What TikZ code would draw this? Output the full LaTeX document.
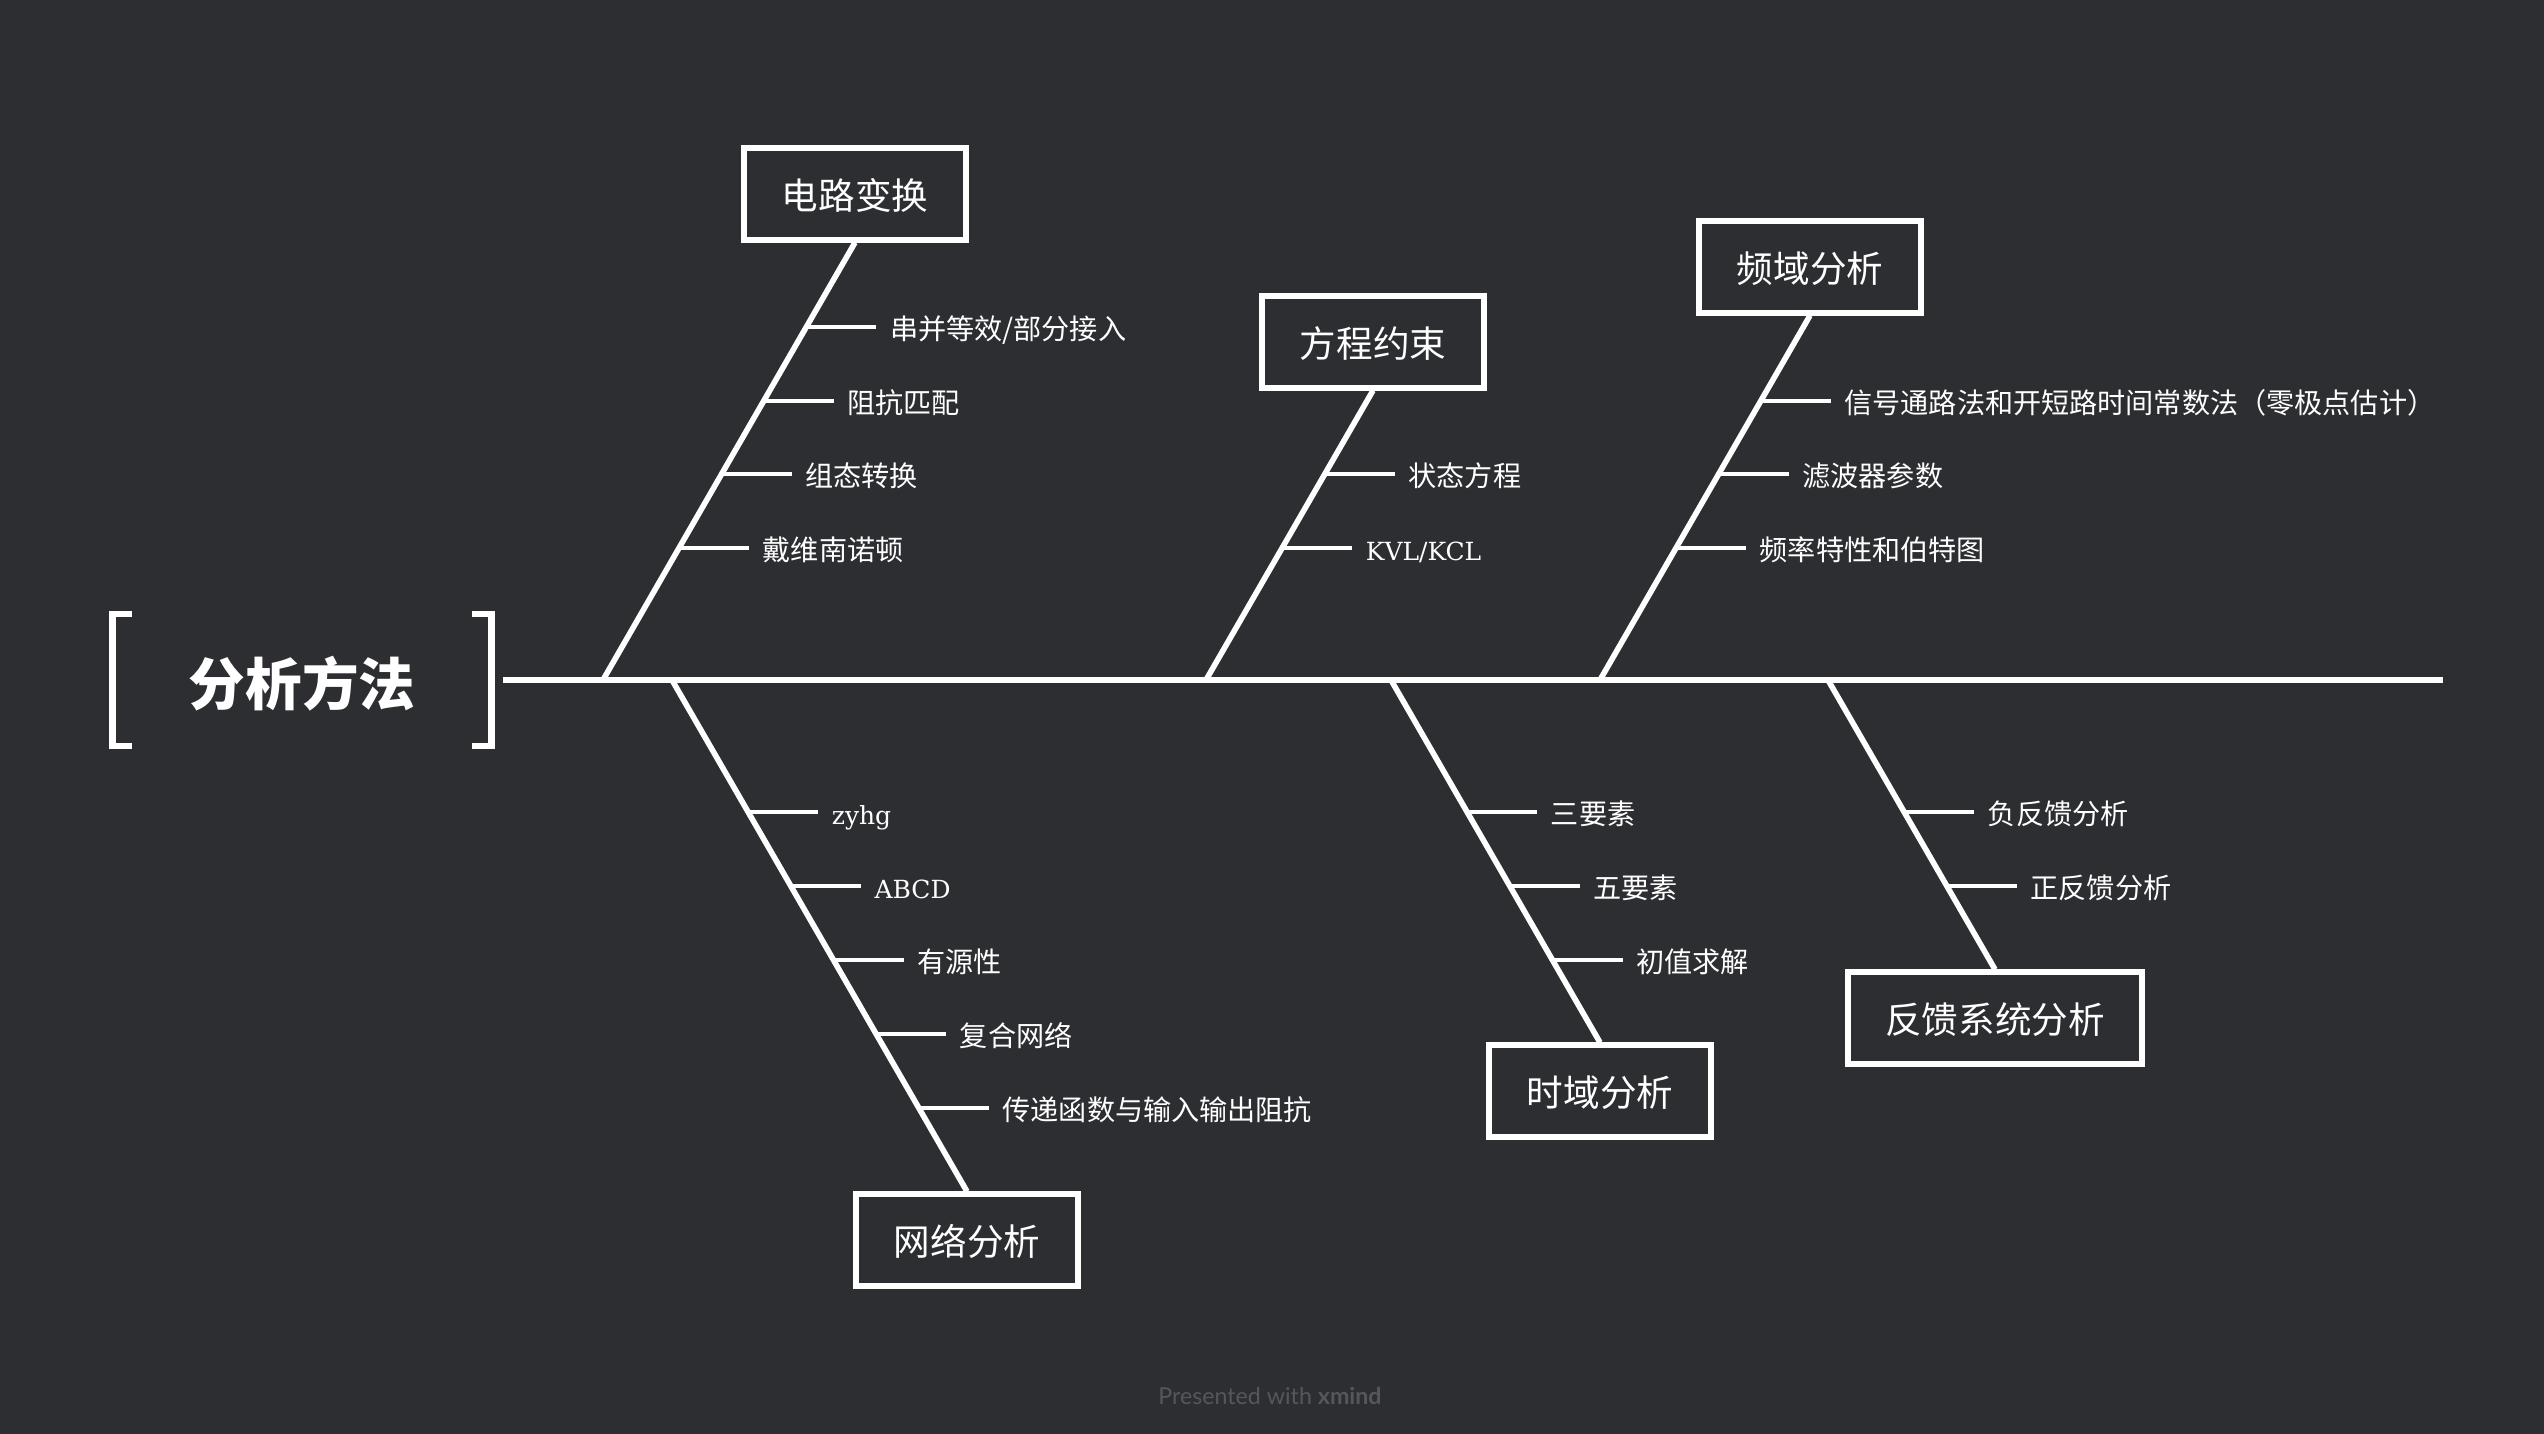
\documentclass[tikz,border=0pt]{standalone}
\usepackage{fontspec}
\usetikzlibrary{calc}
\newfontfamily\cjk{Noto Sans CJK SC}
\newfontfamily\slab{DejaVu Serif}
\newfontfamily\lato{Lato}
\definecolor{canvas}{RGB}{45,46,50}
\definecolor{credit}{RGB}{86,87,91}

% one sub-cause: a short horizontal tick leaving bone #1--#2 at height #3
\newcommand\fishtick[6]{%
  \path (intersection cs:first line={(#1)--(#2)},second line={(0,#3)--(100,#3)}) coordinate (#4s);
  \node[#5] (#4) at ($(#4s)+(70,0)$) {#6};
  \draw[twig] (#4s) -- (#4.west);
}

\begin{document}
\begin{tikzpicture}[x=0.01cm,y=-0.01cm,
  bone/.style={draw=white,line width=1.6pt},
  twig/.style={draw=white,line width=1.2pt},
  bracket/.style={draw=white,line width=1.85pt},
  cat/.style={draw=white,line width=1.7pt,text=white,inner xsep=10.7pt,inner ysep=0pt,
    minimum height=0.91cm,text height=9pt,text depth=0pt,
    font=\cjk\fontsize{10.4pt}{12pt}\selectfont},
  leaf/.style={anchor=west,text=white,inner xsep=3.7pt,inner ysep=0pt,
    text height=8pt,text depth=1pt,font=\cjk\fontsize{8pt}{9.6pt}\selectfont},
  leafl/.style={leaf,text height=7.3pt,text depth=0pt,font=\slab\fontsize{7.1pt}{8.5pt}\selectfont},
]
% canvas
\fill[canvas] (0,0) rectangle (2544,1434);

% head of the fish
\node[text=white,inner sep=0pt,outer sep=0pt,minimum width=3.79cm,minimum height=1.32cm,
  text height=14.4pt,text depth=0pt,
  font=\cjk\bfseries\fontsize{16.1pt}{19pt}\selectfont] (title) at (302,680) {分析方法};
\draw[bracket] ([xshift=0.195cm]title.north west) -- (title.north west) -- (title.south west) -- ([xshift=0.195cm]title.south west);
\draw[bracket] ([xshift=-0.195cm]title.north east) -- (title.north east) -- (title.south east) -- ([xshift=-0.195cm]title.south east);

% spine
\coordinate (sR) at (2443,680);
\draw[bone] ([xshift=0.115cm]title.east) -- (sR);

% category boxes
\node[cat] (b1) at (855,194) {电路变换};
\node[cat] (b2) at (1373,342) {方程约束};
\node[cat] (b3) at (1810,267) {频域分析};
\node[cat] (b4) at (967,1240) {网络分析};
\node[cat] (b5) at (1600,1091) {时域分析};
\node[cat] (b6) at (1995,1018) {反馈系统分析};

% where the bones meet the spine
\coordinate (j1) at (603,680);
\coordinate (j2) at (1206,680);
\coordinate (j3) at (1600,680);
\coordinate (j4) at (672,680);
\coordinate (j5) at (1391,680);
\coordinate (j6) at (1828,680);

\draw[bone] (b1.south) -- (j1);
\draw[bone] (b2.south) -- (j2);
\draw[bone] (b3.south) -- (j3);
\draw[bone] (j4) -- (b4.north);
\draw[bone] (j5) -- (b5.north);
\draw[bone] (j6) -- (b6.north);

% upper bones
\fishtick{b1.south}{j1}{327}{l11}{leaf}{串并等效/部分接入}
\fishtick{b1.south}{j1}{401}{l12}{leaf}{阻抗匹配}
\fishtick{b1.south}{j1}{474}{l13}{leaf}{组态转换}
\fishtick{b1.south}{j1}{548}{l14}{leaf}{戴维南诺顿}

\fishtick{b2.south}{j2}{474}{l21}{leaf}{状态方程}
\fishtick{b2.south}{j2}{548}{l22}{leafl}{KVL/KCL}

\fishtick{b3.south}{j3}{401}{l31}{leaf}{信号通路法和开短路时间常数法（零极点估计）}
\fishtick{b3.south}{j3}{474}{l32}{leaf}{滤波器参数}
\fishtick{b3.south}{j3}{548}{l33}{leaf}{频率特性和伯特图}

% lower bones
\fishtick{j4}{b4.north}{812}{l41}{leafl}{zyhg}
\fishtick{j4}{b4.north}{886}{l42}{leafl}{ABCD}
\fishtick{j4}{b4.north}{960}{l43}{leaf}{有源性}
\fishtick{j4}{b4.north}{1034}{l44}{leaf}{复合网络}
\fishtick{j4}{b4.north}{1108}{l45}{leaf}{传递函数与输入输出阻抗}

\fishtick{j5}{b5.north}{812}{l51}{leaf}{三要素}
\fishtick{j5}{b5.north}{886}{l52}{leaf}{五要素}
\fishtick{j5}{b5.north}{960}{l53}{leaf}{初值求解}

\fishtick{j6}{b6.north}{812}{l61}{leaf}{负反馈分析}
\fishtick{j6}{b6.north}{886}{l62}{leaf}{正反馈分析}

% footer
\node[text=credit,inner sep=0pt,font=\lato\fontsize{6.6pt}{7.8pt}\selectfont] (foot) at (1270,1396) {Presented with \textbf{xmind}};
\end{tikzpicture}
\end{document}
